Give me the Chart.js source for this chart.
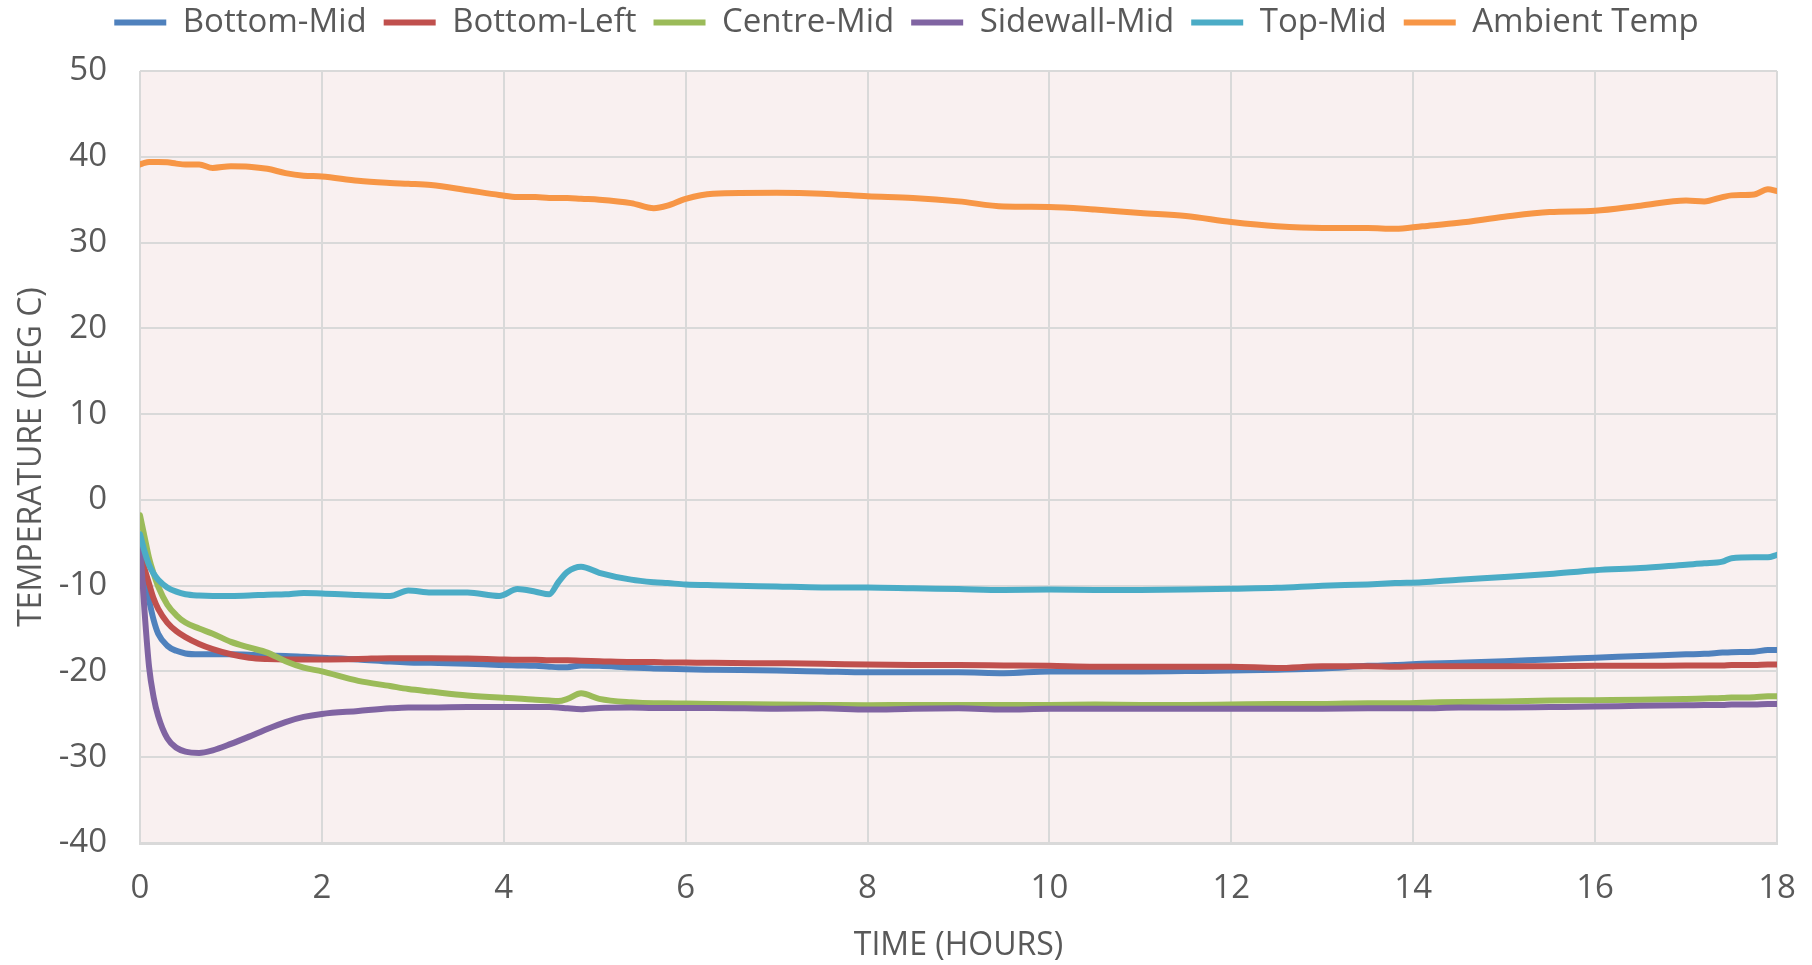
<!DOCTYPE html>
<html>
<head>
<meta charset="utf-8">
<script src="https://cdn.jsdelivr.net/npm/chart.js@4/dist/chart.umd.min.js"></script>
<style>
  html, body { margin: 0; padding: 0; background: #ffffff; }
  #wrap { width: 1812px; height: 965px; position: relative; }
</style>
</head>
<body>
<div id="wrap"><canvas id="c" width="1812" height="965"></canvas></div>
<script>
const hours = [0, 0.05, 0.1, 0.15, 0.2, 0.3, 0.4, 0.5, 0.65, 0.8, 1.0, 1.2, 1.4, 1.6, 1.8, 2.0, 2.4, 2.75, 2.95, 3.2, 3.6, 3.95, 4.15, 4.35, 4.5, 4.6, 4.7, 4.85, 5.05, 5.4, 5.65, 5.8, 6.0, 6.3, 7.0, 7.5, 8.0, 8.5, 9.0, 9.5, 10.0, 10.5, 11.0, 11.5, 12.0, 12.5, 13.0, 13.5, 13.8, 14.1, 14.5, 15.0, 15.5, 16.0, 16.5, 17.0, 17.2, 17.4, 17.5, 17.75, 17.9, 18.0];

const bottomMid = [-5.5, -9.0, -11.7, -14.0, -15.6, -17.0, -17.6, -17.9, -18.0, -18.0, -18.0, -18.05, -18.15, -18.2, -18.3, -18.4, -18.6, -18.85, -18.95, -19.0, -19.1, -19.25, -19.3, -19.35, -19.45, -19.5, -19.5, -19.3, -19.35, -19.55, -19.65, -19.7, -19.75, -19.8, -19.9, -20.0, -20.1, -20.1, -20.1, -20.2, -20.0, -20.0, -20.0, -19.95, -19.9, -19.8, -19.65, -19.35, -19.25, -19.1, -19.0, -18.8, -18.6, -18.4, -18.2, -18.0, -17.95, -17.8, -17.75, -17.7, -17.5, -17.5];

const bottomLeft = [-6.0, -8.0, -9.8, -11.5, -12.7, -14.3, -15.3, -16.0, -16.8, -17.4, -18.0, -18.4, -18.55, -18.6, -18.6, -18.6, -18.55, -18.45, -18.45, -18.45, -18.5, -18.6, -18.65, -18.65, -18.7, -18.7, -18.7, -18.75, -18.8, -18.9, -18.9, -18.95, -18.95, -19.0, -19.05, -19.1, -19.2, -19.25, -19.25, -19.3, -19.35, -19.45, -19.45, -19.45, -19.45, -19.6, -19.4, -19.4, -19.45, -19.4, -19.4, -19.4, -19.4, -19.35, -19.35, -19.3, -19.3, -19.3, -19.25, -19.25, -19.2, -19.2];

const centreMid = [-1.8, -4.3, -6.8, -8.6, -10.1, -12.2, -13.45, -14.3, -15.0, -15.6, -16.55, -17.2, -17.8, -18.8, -19.55, -20.0, -21.1, -21.7, -22.05, -22.35, -22.8, -23.05, -23.15, -23.3, -23.4, -23.45, -23.2, -22.55, -23.2, -23.6, -23.7, -23.7, -23.75, -23.8, -23.85, -23.9, -23.95, -23.9, -23.9, -23.9, -23.9, -23.85, -23.9, -23.9, -23.85, -23.8, -23.8, -23.7, -23.7, -23.65, -23.55, -23.5, -23.4, -23.35, -23.3, -23.2, -23.15, -23.1, -23.05, -23.0, -22.9, -22.9];

const sidewallMid = [-5.0, -13.0, -19.5, -23.0, -25.2, -27.8, -28.9, -29.35, -29.5, -29.2, -28.45, -27.6, -26.7, -25.9, -25.3, -24.95, -24.6, -24.3, -24.2, -24.2, -24.15, -24.15, -24.15, -24.15, -24.15, -24.2, -24.3, -24.4, -24.25, -24.2, -24.25, -24.25, -24.25, -24.25, -24.35, -24.3, -24.45, -24.35, -24.3, -24.45, -24.35, -24.35, -24.35, -24.35, -24.35, -24.35, -24.35, -24.3, -24.3, -24.3, -24.2, -24.2, -24.15, -24.1, -24.0, -23.95, -23.9, -23.9, -23.85, -23.85, -23.8, -23.8];

const topMid = [-4.0, -6.0, -7.6, -8.6, -9.3, -10.2, -10.7, -11.0, -11.15, -11.2, -11.2, -11.15, -11.05, -11.0, -10.85, -10.9, -11.1, -11.2, -10.55, -10.8, -10.8, -11.2, -10.4, -10.7, -11.0, -9.6, -8.4, -7.8, -8.5, -9.3, -9.6, -9.7, -9.85, -9.95, -10.1, -10.2, -10.2, -10.3, -10.4, -10.5, -10.45, -10.5, -10.5, -10.45, -10.35, -10.25, -10.0, -9.85, -9.7, -9.6, -9.3, -9.0, -8.65, -8.2, -7.95, -7.55, -7.4, -7.2, -6.8, -6.7, -6.7, -6.4];

const ambientTemp = [39.1, 39.3, 39.4, 39.4, 39.4, 39.35, 39.2, 39.1, 39.1, 38.7, 38.9, 38.85, 38.6, 38.1, 37.8, 37.7, 37.2, 36.95, 36.85, 36.7, 36.1, 35.55, 35.3, 35.3, 35.2, 35.2, 35.2, 35.1, 35.0, 34.6, 34.0, 34.3, 35.1, 35.7, 35.8, 35.7, 35.4, 35.2, 34.8, 34.2, 34.15, 33.85, 33.45, 33.1, 32.4, 31.9, 31.7, 31.7, 31.6, 31.9, 32.3, 33.0, 33.55, 33.7, 34.3, 34.9, 34.8, 35.3, 35.5, 35.6, 36.2, 36.0];

const seriesNames = ['Bottom-Mid', 'Bottom-Left', 'Centre-Mid', 'Sidewall-Mid', 'Top-Mid', 'Ambient Temp'];
const seriesValues = [bottomMid, bottomLeft, centreMid, sidewallMid, topMid, ambientTemp];
const seriesColors = ['#4F81BD', '#C0504D', '#9BBB59', '#8064A2', '#4BACC6', '#F79646'];

const xTicks = [0, 2, 4, 6, 8, 10, 12, 14, 16, 18];
const yTicks = [-40, -30, -20, -10, 0, 10, 20, 30, 40, 50];

const FONT = "'Open Sans', 'DejaVu Sans', sans-serif";
const TEXT = '#595959';
const GRID = '#D9D9D9';

const datasets = seriesNames.map((name, i) => ({
  label: name,
  data: hours.map((h, j) => ({ x: h, y: seriesValues[i][j] })),
  borderColor: seriesColors[i],
  backgroundColor: seriesColors[i],
  borderWidth: 6,
  borderCapStyle: 'round',
  borderJoinStyle: 'round',
  pointRadius: 0,
  pointHoverRadius: 0,
  cubicInterpolationMode: 'monotone',
  fill: false,
  order: seriesNames.length - i
}));

const plotBg = {
  id: 'plotBg',
  beforeDraw(chart) {
    const a = chart.chartArea, ctx = chart.ctx;
    ctx.save();
    ctx.fillStyle = '#F9F0F0';
    ctx.fillRect(a.left, a.top, a.right - a.left, a.bottom - a.top);
    ctx.restore();
  }
};

const legendGap = {
  id: 'legendGap',
  beforeInit(chart) {
    const origFit = chart.legend.fit;
    chart.legend.fit = function () {
      origFit.call(this);
      this.height += 22;
    };
  },
  afterLayout(chart) {
    // centre the legend on the whole canvas rather than on the padded box
    chart.legend.left += 18;
    chart.legend.right += 18;
  }
};

new Chart(document.getElementById('c'), {
  type: 'line',
  data: { datasets },
  plugins: [plotBg, legendGap],
  options: {
    responsive: false,
    animation: false,
    events: [],
    layout: { padding: { top: -11, right: 35, left: 0, bottom: 0 } },
    plugins: {
      tooltip: { enabled: false },
      legend: {
        position: 'top',
        align: 'center',
        labels: {
          usePointStyle: true,
          pointStyle: 'line',
          pointStyleWidth: 52,
          padding: 17,
          color: TEXT,
          font: { family: FONT, size: 33 },
          sort: (a, b) => a.datasetIndex - b.datasetIndex
        }
      }
    },
    scales: {
      x: {
        type: 'linear',
        min: 0,
        max: 18,
        afterBuildTicks(scale) { scale.ticks = xTicks.map(v => ({ value: v })); },
        afterFit(scale) { scale.height = 122; },
        ticks: {
          color: TEXT,
          font: { family: FONT, size: 33 },
          padding: 12,
          maxRotation: 0,
          autoSkip: false
        },
        grid: { color: GRID, lineWidth: 2, drawTicks: true, tickLength: 14, tickColor: 'rgba(0,0,0,0)' },
        border: { color: GRID, width: 3 },
        title: {
          display: true,
          text: 'TIME (HOURS)',
          color: TEXT,
          font: { family: FONT, size: 32 },
          padding: { top: 4, bottom: 0 }
        }
      },
      y: {
        type: 'linear',
        min: -40,
        max: 50,
        afterBuildTicks(scale) { scale.ticks = yTicks.map(v => ({ value: v })); },
        afterFit(scale) { scale.width = 140; },
        ticks: {
          color: TEXT,
          font: { family: FONT, size: 33 },
          padding: 33
        },
        grid: { color: GRID, lineWidth: 2, drawTicks: false },
        border: { display: false },
        title: {
          display: true,
          text: 'TEMPERATURE (DEG C)',
          color: TEXT,
          font: { family: FONT, size: 32 },
          padding: { top: 13, bottom: 4 }
        }
      }
    }
  }
});
</script>
</body>
</html>
